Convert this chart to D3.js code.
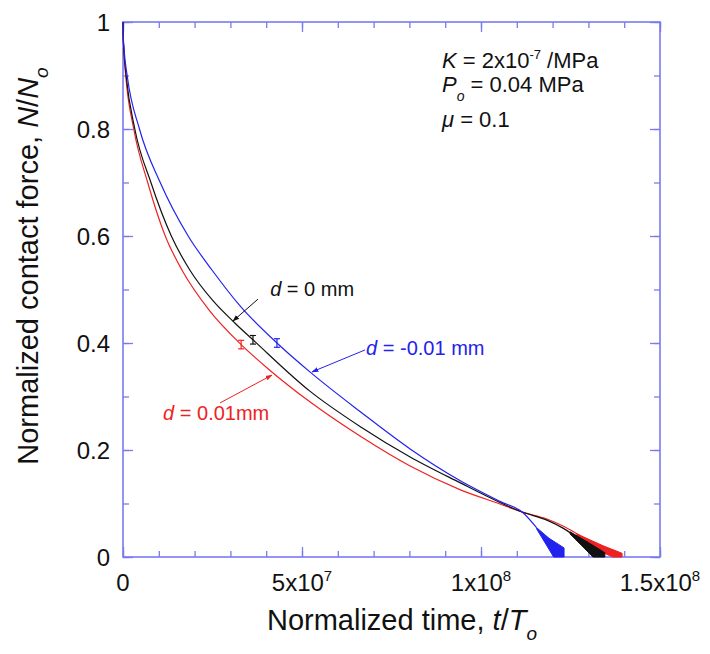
<!DOCTYPE html>
<html>
<head>
<meta charset="utf-8">
<script src="https://cdn.jsdelivr.net/npm/d3@7"></script>
<style>
  body { margin: 0; background: #fff; }
  svg { font-family: "Liberation Sans", Arial, Helvetica, sans-serif; }
</style>
</head>
<body>
<div id="chart"></div>
<script>
// values (t in raw units, N normalized)
const redT = [0, 0.05e6, 0.2e6, 0.75e6, 3.0e6, 6.9e6, 1.18e7, 1.65e7, 2.4e7, 3.30e7, 4.05e7, 5.22e7, 6.62e7, 8.02e7, 9.41e7, 10.53e7, 11.15e7, 11.84e7, 12.29e7, 12.85e7, 13.41e7, 13.88e7];
const redN = [1, 0.975, 0.95, 0.9, 0.8, 0.7, 0.6, 0.536, 0.462, 0.397, 0.352, 0.290, 0.226, 0.170, 0.126, 0.099, 0.084, 0.071, 0.058, 0.037, 0.019, 0.003];

const blackT = [0, 0.05e6, 0.22e6, 0.87e6, 3.3e6, 7.8e6, 1.35e7, 1.87e7, 2.5e7, 3.13e7, 3.63e7, 5.22e7, 6.62e7, 8.02e7, 9.41e7, 10.53e7, 11.15e7, 11.84e7, 12.29e7, 12.77e7, 13.13e7, 13.41e7];
const blackN = [1, 0.975, 0.95, 0.9, 0.8, 0.7, 0.6, 0.536, 0.480, 0.437, 0.406, 0.310, 0.244, 0.187, 0.139, 0.102, 0.084, 0.069, 0.054, 0.032, 0.013, 0];

const blueT = [0, 0.07e6, 0.29e6, 1.16e6, 4.6e6, 1.04e7, 1.82e7, 2.49e7, 3.3e7, 4.30e7, 5.22e7, 6.62e7, 8.02e7, 9.41e7, 10.53e7, 11.15e7, 11.55e7];
const blueN = [1, 0.975, 0.95, 0.9, 0.8, 0.7, 0.6, 0.536, 0.467, 0.400, 0.346, 0.272, 0.202, 0.143, 0.104, 0.084, 0.055];

// thick oscillating tails at the end of each run (outline of the band)
const blueBandT = [11.55e7, 11.9e7, 12.32e7, 12.32e7, 12.03e7, 11.55e7];
const blueBandN = [0.055, 0.035, 0.017, 0, 0, 0.053];
const blackBandT = [12.49e7, 13.0e7, 13.46e7, 13.46e7, 13.13e7, 12.49e7];
const blackBandN = [0.047, 0.027, 0.008, 0, 0, 0.043];
const redBandT = [12.68e7, 13.41e7, 13.94e7, 13.94e7, 13.69e7, 13.41e7, 12.68e7];
const redBandN = [0.043, 0.021, 0.007, 0, 0, 0.008, 0.039];

// error bars
const errT = [3.30e7, 3.63e7, 4.30e7];
const errN = [0.397, 0.406, 0.400];
const errHalf = 0.008;
const errColor = ["#ee2222", "#111111", "#2222ee"];

// axis ticks
const xMajor = [0, 5e7, 1e8, 1.5e8];
const xMajorLabel = [["0", ""], ["5x10", "7"], ["1x10", "8"], ["1.5x10", "8"]];
const xMinor = d3.range(0, 1.5e8 + 1, 1e7);
const yMajor = [0, 0.2, 0.4, 0.6, 0.8, 1];
const yMinor = d3.range(0, 1.01, 0.1);

// curve labels: [t, N] of text, arrow start, arrow tip
const labelTxt = ["0 mm", "-0.01 mm", "0.01mm"];
const labelColor = ["#111111", "#2222ee", "#ee2222"];
const labelPos = [[4.11e7, 0.488], [6.79e7, 0.378], [1.12e7, 0.256]];
const arrowFrom = [[3.77e7, 0.482], [6.76e7, 0.387], [2.71e7, 0.288]];
const arrowTo = [[3.07e7, 0.441], [5.28e7, 0.346], [4.16e7, 0.340]];

const width = 710, height = 654;
const margin = {top: 22, right: 50, bottom: 97, left: 123};
const w = width - margin.left - margin.right;
const h = height - margin.top - margin.bottom;
const frameColor = "#7a7af0";

const svg = d3.select("#chart").append("svg")
  .attr("width", width)
  .attr("height", height);

const defs = svg.append("defs");
labelColor.forEach((c, i) => {
  defs.append("marker")
    .attr("id", "arr" + i)
    .attr("viewBox", "0 0 10 10")
    .attr("refX", 9).attr("refY", 5)
    .attr("markerWidth", 7).attr("markerHeight", 7)
    .attr("orient", "auto")
    .append("path")
      .attr("d", "M0,1.5 L10,5 L0,8.5 Z")
      .attr("fill", c);
});

const g = svg.append("g")
  .attr("transform", `translate(${margin.left},${margin.top})`);

const x = d3.scaleLinear().domain([0, 1.5e8]).range([0, w]);
const y = d3.scaleLinear().domain([0, 1]).range([h, 0]);

// ticks pointing inward on all four sides
function tickAxes(axisFn, scale, vals, size, transform) {
  const a = g.append("g")
    .attr("transform", transform)
    .call(axisFn(scale).tickValues(vals).tickSize(size).tickFormat(""));
  a.select(".domain").remove();
  a.selectAll("line").attr("stroke", frameColor).attr("stroke-width", 1.3);
}
tickAxes(d3.axisBottom, x, xMinor, -6, `translate(0,${h})`);
tickAxes(d3.axisBottom, x, xMajor, -10, `translate(0,${h})`);
tickAxes(d3.axisTop, x, xMinor, -6, "translate(0,0)");
tickAxes(d3.axisTop, x, xMajor, -10, "translate(0,0)");
tickAxes(d3.axisLeft, y, yMinor, -6, "translate(0,0)");
tickAxes(d3.axisLeft, y, yMajor, -10, "translate(0,0)");
tickAxes(d3.axisRight, y, yMinor, -6, `translate(${w},0)`);
tickAxes(d3.axisRight, y, yMajor, -10, `translate(${w},0)`);

g.append("rect")
  .attr("width", w).attr("height", h)
  .attr("fill", "none")
  .attr("stroke", frameColor)
  .attr("stroke-width", 1.6);

// tick labels
const xl = g.selectAll(".xlab")
  .data(xMajor)
  .join("text")
    .attr("class", "xlab")
    .attr("x", d => x(d))
    .attr("y", h + 34)
    .attr("text-anchor", "middle")
    .style("font-size", "24px")
    .attr("fill", "#111");
xl.append("tspan").text((d, i) => xMajorLabel[i][0]);
xl.append("tspan")
  .attr("dy", -10)
  .style("font-size", "15px")
  .text((d, i) => xMajorLabel[i][1]);

g.selectAll(".ylab")
  .data(yMajor)
  .join("text")
    .attr("class", "ylab")
    .attr("x", -13)
    .attr("y", d => y(d) + 8.5)
    .attr("text-anchor", "end")
    .style("font-size", "24px")
    .attr("fill", "#111")
    .text(d => d3.format("")(d));

// axis titles
const xt = svg.append("text")
  .attr("x", 402)
  .attr("y", 630)
  .attr("text-anchor", "middle")
  .style("font-size", "29px")
  .attr("fill", "#111");
xt.append("tspan").text("Normalized time, ");
xt.append("tspan").style("font-style", "italic").text("t");
xt.append("tspan").text("/");
xt.append("tspan").style("font-style", "italic").text("T");
xt.append("tspan").attr("dy", 10).style("font-style", "italic").style("font-size", "19px").text("o");

const yt = svg.append("text")
  .attr("transform", "translate(38,266) rotate(-90)")
  .attr("text-anchor", "middle")
  .style("font-size", "29px")
  .attr("fill", "#111");
yt.append("tspan").text("Normalized contact force, ");
yt.append("tspan").style("font-style", "italic").text("N");
yt.append("tspan").text("/");
yt.append("tspan").style("font-style", "italic").text("N");
yt.append("tspan").attr("dy", 10).style("font-style", "italic").style("font-size", "19px").text("o");

// curves
const line = d3.line()
  .x(d => x(d[0]))
  .y(d => y(d[1]))
  .curve(d3.curveMonotoneX);
const poly = d3.line()
  .x(d => x(d[0]))
  .y(d => y(d[1]))
  .curve(d3.curveLinearClosed);

const zip = (a, b) => a.map((v, i) => [v, b[i]]);
const series = [
  {t: redT, n: redN, bt: redBandT, bn: redBandN, color: "#ee2222"},
  {t: blackT, n: blackN, bt: blackBandT, bn: blackBandN, color: "#111111"},
  {t: blueT, n: blueN, bt: blueBandT, bn: blueBandN, color: "#2222ee"}
];

series.forEach(s => {
  g.append("path")
    .datum(zip(s.bt, s.bn))
    .attr("d", poly)
    .attr("fill", s.color)
    .attr("stroke", s.color)
    .attr("stroke-width", 1);
  g.append("path")
    .datum(zip(s.t, s.n))
    .attr("d", line)
    .attr("fill", "none")
    .attr("stroke", s.color)
    .attr("stroke-width", 1.2);
});

// error bars
errT.forEach((t, i) => {
  const eb = g.append("g").attr("stroke", errColor[i]).attr("stroke-width", 1.2);
  eb.append("line")
    .attr("x1", x(t)).attr("x2", x(t))
    .attr("y1", y(errN[i] - errHalf)).attr("y2", y(errN[i] + errHalf));
  [errN[i] - errHalf, errN[i] + errHalf].forEach(v => {
    eb.append("line")
      .attr("x1", x(t) - 3).attr("x2", x(t) + 3)
      .attr("y1", y(v)).attr("y2", y(v));
  });
});

// curve labels with arrows
labelTxt.forEach((txt, i) => {
  g.append("line")
    .attr("x1", x(arrowFrom[i][0])).attr("y1", y(arrowFrom[i][1]))
    .attr("x2", x(arrowTo[i][0])).attr("y2", y(arrowTo[i][1]))
    .attr("stroke", labelColor[i])
    .attr("stroke-width", 1)
    .attr("marker-end", `url(#arr${i})`);
  const t = g.append("text")
    .attr("x", x(labelPos[i][0]))
    .attr("y", y(labelPos[i][1]))
    .style("font-size", "20px")
    .attr("fill", labelColor[i]);
  t.append("tspan").style("font-style", "italic").text("d");
  t.append("tspan").text(" = " + txt);
});

// parameters box (top right)
const px = x(8.91e7);
const p1 = g.append("text").attr("x", px).attr("y", y(0.914))
  .style("font-size", "22px").attr("fill", "#111");
p1.append("tspan").style("font-style", "italic").text("K");
p1.append("tspan").text(" = 2x10");
p1.append("tspan").attr("dy", -9).style("font-size", "13px").text("-7");
p1.append("tspan").attr("dy", 9).text(" /MPa");

const p2 = g.append("text").attr("x", px).attr("y", y(0.869))
  .style("font-size", "22px").attr("fill", "#111");
p2.append("tspan").style("font-style", "italic").text("P");
p2.append("tspan").attr("dy", 9).style("font-style", "italic").style("font-size", "14px").text("o");
p2.append("tspan").attr("dy", -9).text(" = 0.04 MPa");

const p3 = g.append("text").attr("x", px).attr("y", y(0.804))
  .style("font-size", "22px").attr("fill", "#111");
p3.append("tspan").style("font-style", "italic").text("\u03bc");
p3.append("tspan").text("  = 0.1");
</script>
</body>
</html>
